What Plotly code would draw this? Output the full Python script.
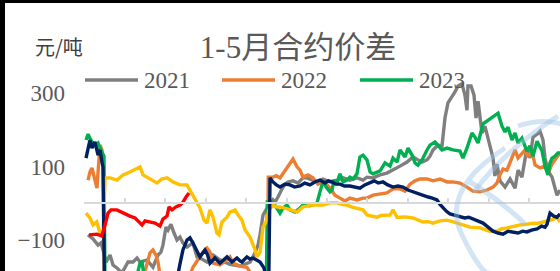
import plotly.graph_objects as go

# ---------------- data (x = trading-day index, y = spread in 元/吨) ----------------
s2021 = [(3,-86),(6.7,-97),(10.4,-114),(12.6,-108),(14.1,-127),(16.3,-160),(19.3,-141),(21.5,-168),(24.4,-176),
         (28.1,-190),(32.6,-160),(36.3,-160),(39.3,-149),(41.5,-160),(46.7,-154),(51.1,-174),(54.8,-141),(57,-133),
         (58.5,-114),(60.7,-65),(62.2,-73),(64.4,-57),(66.7,-81),(68.9,-100),(71.1,-92),(73.3,-108),(76.3,-119),
         (78.5,-114),(80.7,-108),(83.7,-146),(85.9,-149),(91.1,-160),(95.6,-141),(100.7,-154),(108.1,-166),
         (115.6,-171),(123,-160),(126.7,-135),(128.9,-114),(130.4,-86),(132.6,-32),(135.6,-13),(137.8,-5),(140,9),
         (141.5,3),(143.7,17),(147.4,44),(151.1,58),(154.8,61),(158.5,55),(162.2,69),(165.2,69),(169.6,63),
         (172.6,58),(177,66),(182.2,58),(187.4,63),(191.9,69),(197,63),(202.2,69),(206.7,63),(209.6,71),(214.1,69),
         (219.3,77),(224.4,82),(228.9,90),(234.1,101),(239.3,112),(243.7,126),(247.4,118),(250.4,112),(254.1,118),
         (256.3,128),(258.5,145),(262.2,158),(265.2,156),(267.4,232),(269.6,273),(272.6,289),(274.8,303),(277,319),
         (280,325),(282.2,294),(283.7,253),(284.4,319),(286.7,319),(288.9,294),(290.4,232),(291.9,278),(293.3,232),
         (294.8,191),(297,210),(299.3,172),(300.7,156),(303,123),(304.4,74),(305.9,107),(308.1,61),(311.9,44),
         (315.6,66),(319.3,41),(321.5,90),(324.4,71),(328.1,150),(330.4,123),(332.6,180),(335.6,188),(337.8,196),
         (340,172),(341.5,123),(343.7,88),(346.7,71),(348.9,41),(350.4,22),(351.9,31),(352.6,36)]

s2022 = [(3,63),(4.4,85),(5.9,96),(7.4,69),(9.6,41),(10.4,85),(11.9,158),(13.3,145),(14.1,118),(15.2,-235),
         (30,-240),(43,-215),(46.7,-160),(48.9,-135),(51.1,-127),(53.3,-141),(54.8,-160),(56.3,-195),(65,-230),
         (77,-210),(80.7,-174),(84.4,-154),(88.1,-133),(91.1,-122),(93.3,-133),(95.6,-163),(100.7,-168),
         (105.9,-154),(108.1,-146),(110.4,-163),(115.6,-171),(120.7,-174),(124.4,-195),(130,-230),(135.8,-235),
         (136.5,71),(140,71),(142.5,75),(145.2,69),(148.1,85),(150.4,96),(152.6,112),(154.8,120),(157.8,99),
         (160,90),(162.2,71),(165.9,77),(169.6,69),(173.3,52),(177,58),(180,50),(182.2,41),(185.9,22),(189.6,14),
         (193.3,6),(197,14),(202.2,9),(206.7,14),(209.6,14),(214.1,22),(219.3,25),(224.4,28),(228.9,39),(234.1,39),
         (237.8,33),(241.5,52),(245.2,61),(248.9,66),(254.1,66),(258.5,61),(263.7,66),(268.9,58),(273.3,58),
         (278.5,55),(283.7,44),(288.1,33),(293.3,31),(298.5,36),(303,44),(305.9,55),(308.1,77),(310.4,93),
         (313.3,90),(315.6,112),(319.3,145),(321.5,123),(324.4,137),(326.7,145),(328.9,126),(331.9,142),
         (334.1,104),(337.8,96),(341.5,101),(343.7,80),(346.7,107),(348.9,118),(351.1,128),(352.6,137)]

s2023 = [(1.5,172),(3,188),(4.4,177),(5.9,167),(8.1,158),(10.4,164),(11.9,150),(13.3,139),(14.8,128),(15.6,-240),
         (30,-230),(39,-200),(41.5,-163),(43,-160),(44.4,-195),(60,-235),(90,-240),(120,-235),(135,-230),
         (135.8,3),(137.8,1),(140,3),(143,-13),(145.2,-27),(147.4,-13),(150.4,-5),(152.6,-18),(156.3,-24),
         (160,-13),(162.2,-5),(167.4,-7),(172.6,1),(174.8,31),(177,58),(180,41),(182.2,31),(183.7,36),(185.2,63),
         (187.4,55),(189.6,80),(191.9,58),(194.8,63),(197,71),(199.3,66),(202.2,80),(204.4,126),(206.7,131),
         (209.6,118),(211.9,85),(214.1,80),(219.3,88),(223,110),(226.7,101),(228.9,123),(231.9,112),(234.1,145),
         (237.8,126),(240,150),(243,131),(245.2,110),(247.4,104),(250.4,118),(254.1,145),(256.3,158),(260,167),
         (262.2,158),(265.2,145),(268.9,150),(273.3,145),(278.5,142),(280.7,123),(283.7,150),(287.4,191),
         (289.6,180),(291.9,164),(295.6,216),(298.5,224),(303,234),(306.7,245),(309.6,210),(311.9,194),(314.1,207),
         (317,172),(319.3,191),(321.5,164),(324.4,177),(328.1,142),(330.4,156),(332.6,128),(335.6,169),
         (339.3,142),(341.5,101),(343.7,77),(345.2,110),(346.7,123),(348.9,128),(351.1,137),(352.6,137)]

s2024 = [(1.5,-27),(4.4,-40),(6.7,-59),(9.4,-51),(11.9,-81),(14.1,-86),(15.6,69),(19.3,69),(24.4,63),(28.9,77),
         (34,85),(39,96),(41.5,99),(43.7,77),(46.7,71),(50.4,61),(54.1,55),(57.5,66),(61.5,69),(65.9,58),(71.1,50),
         (76.3,50),(78.5,36),(82.2,9),(85.9,-13),(88.9,-46),(91.1,-54),(93.3,-18),(95.6,-38),(98.5,-81),(100,-86),
         (102.2,-51),(105.9,-38),(108.1,-24),(111.9,-18),(114.1,-32),(117,-46),(119.3,-73),(123,-92),(126.7,-127),
         (128.1,-146),(130.4,-133),(132.6,-65),(134.8,-51),(137,-18),(140,-5),(143,-10),(145.2,-10),(149,-13),
         (152.6,-18),(155,-20),(157.8,-24),(160,-16),(162.2,-10),(165,-8),(167.4,-5),(172.6,-5),(177,-5),
         (182.2,1),(187.4,1),(191,-3),(194.8,-5),(198,-10),(202.2,-13),(206.7,-18),(209.6,-32),(213,-35),
         (217,-38),(220,-33),(223,-32),(226.7,-32),(228.9,-18),(231.9,-38),(234.1,-38),(238,-37),(243.7,-40),
         (247,-45),(251.1,-51),(255,-50),(258.5,-54),(263.7,-48),(268.9,-46),(273,-50),(278.5,-57),(282,-60),
         (285.9,-65),(293.3,-67),(297,-72),(300.7,-76),(305.9,-76),(309,-70),(313.3,-67),(318,-62),(323,-59),
         (328,-57),(332.6,-54),(336,-55),(340,-51),(345.2,-46),(348,-43),(350.4,-38),(352.6,-51)]

s2025 = [(1.5,123),(3,145),(4.4,172),(5.9,150),(8.1,167),(10.4,131),(11.9,145),(13.3,112),(14.1,99),(15.2,-235),
         (30,-240),(45,-245),(60,-230),(69,-205),(71.1,-165),(73.3,-127),(76.3,-100),(78.5,-94),(80.7,-108),
         (82.2,-119),(85.9,-146),(89.6,-127),(91.5,-140),(93.3,-163),(95.6,-152),(97,-149),(100.7,-163),
         (103,-155),(105.9,-146),(109.6,-160),(113.3,-149),(115.6,-157),(117,-160),(120.7,-146),(123,-152),
         (125.2,-149),(128,-155),(130.4,-160),(133.3,-176),(135.6,-210),(136.8,-235),(137.8,69),(140,58),
         (142.5,50),(145.2,44),(149,52),(152.6,50),(156,44),(160,47),(163.5,55),(167.4,50),(171,58),(174.8,63),
         (178.5,55),(181,61),(183.7,58),(186.5,52),(189.6,52),(193,47),(197,47),(200.5,44),(204.4,41),(208,50),
         (211.9,55),(215,61),(218,55),(221.5,58),(225,50),(228.9,44),(232.5,47),(236.3,44),(240,36),(243.7,31),
         (247.5,25),(251.1,22),(255,17),(258,14),(261.5,9),(263.7,-3),(265.9,-13),(268.5,-22),(271.1,-29),
         (274.8,-32),(278.5,-35),(282,-40),(285,-38),(288.1,-43),(292,-48),(295.6,-54),(299.3,-65),(303,-76),
         (306.7,-81),(310.4,-84),(314,-76),(317.8,-78),(321.5,-81),(325,-76),(328.1,-78),(331.5,-73),
         (335.6,-70),(339,-62),(341.5,-65),(343,-57),(345.2,-27),(348,-35),(350.4,-38),(352.6,-29)]

s2026 = [(3.7,-86),(6.7,-86),(9.6,-84),(13.1,-89),(14.1,-73),(15.6,-59),(17.8,-27),(20,-18),(24.4,-18),
         (28.9,-27),(34,-35),(37.8,-40),(41.5,-54),(43,-59),(45.2,-48),(48.9,-51),(52.6,-54),(56.3,-62),
         (58.5,-43),(61.5,-35),(63,-10),(65.2,-18),(68.1,-10),(71.1,-5),(73.3,3),(75.6,17),(77.8,28)]

series = [
    ("2021", s2021, "#7F7F7F", True),
    ("2022", s2022, "#ED7D31", True),
    ("2023", s2023, "#00B050", True),
    ("2024", s2024, "#FFC000", False),
    ("2025", s2025, "#002060", False),
    ("2026", s2026, "#FF0000", False),
]

y_ticks = [-100, 100, 300]
x_ticks = list(range(0, 353, 30))
title_text = "1-5月合约价差"
unit_text = "元/吨"

# ---------------- layout geometry ----------------
W, H = 560, 271
ML, MR, MT, MB = 84, 0, 60, 0
PW, PH = W - ML - MR, H - MT - MB

def px(x):  # figure pixel -> paper x
    return (x - ML) / PW

def py(y):  # figure pixel -> paper y
    return (H - MB - y) / PH

def path(cmds):
    out = []
    for c in cmds:
        if isinstance(c, str):
            out.append(c)
        else:
            out.append(f"{px(c[0]):.4f},{py(c[1]):.4f}")
    return " ".join(out)

fig = go.Figure()
for name, pts, color, _ in series:
    xs = [p[0] for p in pts]
    ys = [p[1] for p in pts]
    fig.add_trace(go.Scatter(x=xs, y=ys, mode="lines", name=name,
                             line=dict(color=color, width=3.4), showlegend=False))

serif = "Liberation Serif, Times New Roman, serif"
shapes = []
annotations = []

# faint logo watermark (decoration, lower right)
wm = dict(color="rgba(157,195,230,0.45)", width=5)
shapes.append(dict(type="path", xref="paper", yref="paper", layer="above", line=wm,
                   path=path(["M", (505, 148), "Q", (440, 190), (462, 235), "T", (492, 272)])))
shapes.append(dict(type="path", xref="paper", yref="paper", layer="above", line=wm,
                   path=path(["M", (518, 126), "Q", (540, 118), (562, 124)])))
shapes.append(dict(type="path", xref="paper", yref="paper", layer="above", line=wm,
                   path=path(["M", (558, 116), "Q", (505, 150), (474, 192)])))
shapes.append(dict(type="path", xref="paper", yref="paper", layer="above", line=wm,
                   path=path(["M", (470, 182), "Q", (500, 200), (525, 224)])))

# manual legend (first row)
leg_y = py(80)
leg_x0 = [85, 222, 360]
for (name, _, color, show), x0 in zip(series, leg_x0 + [None] * 3):
    if not show:
        continue
    shapes.append(dict(type="line", xref="paper", yref="paper", x0=px(x0), x1=px(x0 + 53),
                       y0=leg_y, y1=leg_y, line=dict(color=color, width=3.5)))
    annotations.append(dict(xref="paper", yref="paper", x=px(x0 + 57), y=leg_y, text=name,
                            showarrow=False, xanchor="left", yanchor="middle",
                            font=dict(family=serif, size=23, color="#595959")))

# unit label
annotations.append(dict(xref="paper", yref="paper", x=px(59), y=py(47), text=unit_text,
                        showarrow=False, xanchor="center", yanchor="middle",
                        font=dict(family="Noto Sans CJK SC", size=20, color="#404040")))

# outer dark frame (top and left edge of the screenshot)
shapes.append(dict(type="rect", xref="paper", yref="paper", x0=px(0), x1=px(5), y0=py(H), y1=py(0),
                   fillcolor="black", line=dict(width=0), layer="above"))
shapes.append(dict(type="rect", xref="paper", yref="paper", x0=px(0), x1=px(W), y0=py(3), y1=py(0),
                   fillcolor="black", line=dict(width=0), layer="above"))

fig.update_layout(
    width=W, height=H,
    margin=dict(l=ML, r=MR, t=MT, b=MB),
    plot_bgcolor="white", paper_bgcolor="white",
    showlegend=False,
    title=dict(text=title_text, xref="paper", x=px(298), xanchor="center",
               yref="container", y=1 - 47 / H, yanchor="middle",
               font=dict(family=serif + ", Noto Sans CJK SC", size=31, color="#595959")),
    shapes=shapes,
    annotations=annotations,
)

y_min = (203.25 - 271) / 0.3675
y_max = (203.25 - 60) / 0.3675
zero_pos = (0 - y_min) / (y_max - y_min)

fig.update_xaxes(range=[0, 352.6], tickvals=x_ticks, ticks="inside", ticklen=5, tickwidth=1.5,
                 tickcolor="#D9D9D9", showline=True, linecolor="#D9D9D9", linewidth=1.5,
                 showticklabels=False, showgrid=False, zeroline=False,
                 anchor="free", position=zero_pos)
fig.update_yaxes(range=[y_min, y_max], tickvals=y_ticks, showgrid=False, zeroline=False,
                 showline=False, ticks="", ticklabelstandoff=18,
                 tickfont=dict(family=serif, size=23, color="#595959"))

fig.write_html("out.html", config={"displayModeBar": False},
               post_script="document.body.style.margin='0px';document.body.style.overflow='hidden';")
